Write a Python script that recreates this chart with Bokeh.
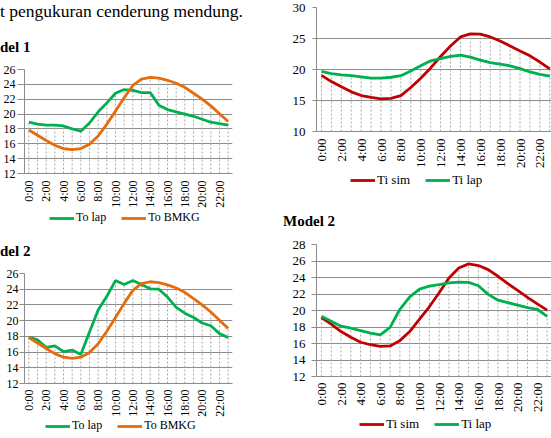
import numpy as np
from bokeh.plotting import figure
from bokeh.layouts import row, column
from bokeh.models import Div, Legend, LegendItem, FixedTicker, Range1d
from bokeh.embed import file_html
from bokeh.resources import INLINE

# ---------------- data ----------------
hours = list(range(24))
hour_labels = ["0:00", "1:00", "2:00", "3:00", "4:00", "5:00", "6:00", "7:00",
               "8:00", "9:00", "10:00", "11:00", "12:00", "13:00", "14:00", "15:00",
               "16:00", "17:00", "18:00", "19:00", "20:00", "21:00", "22:00", "23:00"]
tick_hours = [0, 2, 4, 6, 8, 10, 12, 14, 16, 18, 20, 22]

# Model 1 – outdoor temperature
to_lap_m1 = [18.9, 18.65, 18.5, 18.5, 18.4, 18.0, 17.7, 18.8, 20.3, 21.5, 22.8, 23.3,
             23.2, 22.9, 22.9, 21.2, 20.6, 20.3, 20.0, 19.7, 19.3, 18.9, 18.7, 18.5]
to_bmkg = [17.85, 17.15, 16.45, 15.8, 15.35, 15.2, 15.35, 15.95, 17.05, 18.65, 20.4, 22.2,
           23.85, 24.7, 24.95, 24.85, 24.55, 24.15, 23.6, 22.8, 22.0, 21.1, 20.05, 19.0]
# Model 2 – outdoor temperature
to_lap_m2 = [17.9, 17.55, 16.6, 16.8, 16.05, 16.25, 15.7, 18.55, 21.35, 23.1, 25.1, 24.6,
             25.1, 24.6, 24.05, 24.0, 23.0, 21.7, 20.95, 20.4, 19.7, 19.35, 18.35, 17.85]
# Model 1 – indoor temperature
ti_sim_m1 = [19.05, 18.05, 17.2, 16.4, 15.8, 15.5, 15.25, 15.35, 15.8, 17.1, 18.6, 20.25,
             22.1, 23.8, 25.25, 25.75, 25.7, 25.25, 24.6, 23.8, 23.0, 22.2, 21.2, 20.1]
ti_lap_m1 = [19.7, 19.35, 19.15, 19.0, 18.8, 18.6, 18.6, 18.75, 19.0, 19.75, 20.6, 21.4,
             21.75, 22.1, 22.3, 22.0, 21.5, 21.1, 20.85, 20.6, 20.15, 19.6, 19.2, 18.95]
# Model 2 – indoor temperature
ti_sim_m2 = [19.15, 18.35, 17.45, 16.75, 16.15, 15.85, 15.65, 15.7, 16.35, 17.45, 18.95, 20.45,
             22.15, 23.95, 25.15, 25.65, 25.45, 24.95, 24.15, 23.25, 22.45, 21.6, 20.8, 20.05]
ti_lap_m2 = [19.3, 18.7, 18.1, 17.85, 17.55, 17.25, 17.05, 17.95, 20.15, 21.65, 22.6, 22.95,
             23.15, 23.35, 23.45, 23.4, 23.0, 21.95, 21.25, 20.95, 20.65, 20.35, 20.15, 19.3]

GREEN = "#00B050"
ORANGE = "#E46C0A"
RED = "#C00000"
GRID = "#8C8C8C"
FONT = "Liberation Serif"
LW = 2.8


def make_chart(s1, s2, colors, ymin, ymax, ystep, width, height,
               mb_left, mb_right, mb_top, mb_bottom, xend, fs, tick_out, y_standoff,
               x_standoff):
    p = figure(width=width, height=height, output_backend="svg", toolbar_location=None,
               x_range=Range1d(-0.5, xend), y_range=Range1d(ymin, ymax),
               min_border_left=mb_left, min_border_right=mb_right,
               min_border_top=mb_top, min_border_bottom=mb_bottom)
    p.outline_line_color = None
    p.background_fill_color = "white"
    p.border_fill_color = "white"

    # drop lines from the higher series down to the axis
    top = np.maximum(np.array(s1), np.array(s2))
    p.segment(x0=hours, y0=[ymin] * len(hours), x1=hours, y1=top,
              line_color="#A6A6A6", line_width=1, line_dash="2 2")

    p.line(hours, s1, line_color=colors[0], line_width=LW)
    p.line(hours, s2, line_color=colors[1], line_width=LW)

    yticks = list(range(ymin, ymax + 1, ystep))
    p.xgrid.visible = False
    p.ygrid.ticker = FixedTicker(ticks=yticks)
    p.ygrid.grid_line_color = GRID
    p.ygrid.grid_line_width = 1

    ya = p.yaxis[0]
    ya.ticker = FixedTicker(ticks=yticks)
    ya.axis_line_color = GRID
    ya.major_tick_line_color = GRID
    ya.major_tick_out = tick_out
    ya.major_tick_in = 0
    ya.minor_tick_line_color = None
    ya.major_label_standoff = y_standoff
    ya.major_label_text_font = FONT
    ya.major_label_text_font_size = f"{fs}px"
    ya.major_label_text_color = "#000000"

    xa = p.xaxis[0]
    xa.ticker = FixedTicker(ticks=tick_hours)
    xa.major_label_overrides = {h: hour_labels[h] for h in tick_hours}
    xa.major_label_orientation = np.pi / 2
    xa.axis_line_color = GRID
    xa.major_tick_line_color = None
    xa.major_tick_out = 0
    xa.major_tick_in = 0
    xa.minor_tick_line_color = None
    xa.major_label_standoff = x_standoff
    xa.major_label_text_font = FONT
    xa.major_label_text_font_size = f"{fs}px"
    xa.major_label_text_color = "#000000"
    return p


def make_legend(s1, s2, names, colors, width, height, leg_x, leg_top, fs):
    """Legend strip below a chart; the series are attached only as legend sources
    (the strip's y-range lies far below the data so they are not drawn).
    leg_x is measured from the (column-aligned) frame left edge."""
    lh = 14
    q = figure(width=width, height=height, output_backend="svg", toolbar_location=None,
               x_range=Range1d(0, 1), y_range=Range1d(-1, 0),
               min_border=0, x_axis_type=None, y_axis_type=None)
    q.outline_line_color = None
    q.xgrid.visible = False
    q.ygrid.visible = False
    r1 = q.line(hours, s1, line_color=colors[0], line_width=LW)
    r2 = q.line(hours, s2, line_color=colors[1], line_width=LW)
    leg = Legend(items=[LegendItem(label=names[0], renderers=[r1]),
                        LegendItem(label=names[1], renderers=[r2])],
                 orientation="horizontal", location=(leg_x, height - leg_top - lh),
                 glyph_width=25, glyph_height=lh, label_height=lh, label_width=10,
                 label_standoff=2, spacing=15, padding=0, margin=0,
                 border_line_alpha=0, background_fill_alpha=0,
                 label_text_font=FONT, label_text_font_size=f"{fs}px",
                 label_text_color="#000000")
    q.add_layout(leg, "center")
    return q


# left column: outdoor temperature charts
fig1 = make_chart(to_lap_m1, to_bmkg, [GREEN, ORANGE],
                  12, 26, 2, 280, 150, 22, 48, 9, 35, 23.5, 12, 7, 2, 7)
leg1 = make_legend(to_lap_m1, to_bmkg, ["To lap", "To BMKG"], [GREEN, ORANGE], 280, 22, 25, 1, 12)
fig3 = make_chart(to_lap_m2, to_bmkg, [GREEN, ORANGE],
                  12, 26, 2, 280, 157, 18, 46, 11, 34, 23.5, 12, 5, 1, 6)
leg3 = make_legend(to_lap_m2, to_bmkg, ["To lap", "To BMKG"], [GREEN, ORANGE], 280, 19, 21, 0, 12)

# right column: indoor temperature charts
fig2 = make_chart(ti_sim_m1, ti_lap_m1, [RED, GREEN],
                  10, 30, 5, 271, 171, 36, 0, 7, 38, 23.17, 13, 4, 7, 7)
leg2 = make_legend(ti_sim_m1, ti_lap_m1, ["Ti sim", "Ti lap"], [RED, GREEN], 271, 29, 34, 3, 13)
fig4 = make_chart(ti_sim_m2, ti_lap_m2, [RED, GREEN],
                  12, 28, 2, 271, 180, 36, 0, 9, 37, 23.45, 13, 5, 6, 6)
leg4 = make_legend(ti_sim_m2, ti_lap_m2, ["Ti sim", "Ti lap"], [RED, GREEN], 271, 23, 43, 3, 13)

SPAN = "position:absolute;white-space:nowrap;line-height:1;color:#000;font-family:'Liberation Serif';"
top_div = Div(text=(
    '<div style="position:relative;width:280px;height:60px;overflow:hidden;">'
    f'<span style="{SPAN}left:0px;top:3px;font-size:17.5px;">t pengukuran cenderung mendung.</span>'
    f'<span style="{SPAN}left:0px;top:40px;font-size:15px;font-weight:bold;">del 1</span>'
    '</div>'), width=280, height=60, margin=0)
mid_left_div = Div(text=(
    '<div style="position:relative;width:280px;height:30px;overflow:hidden;">'
    f'<span style="{SPAN}left:0px;top:12px;font-size:15px;font-weight:bold;">del 2</span>'
    '</div>'), width=280, height=30, margin=0)
mid_right_div = Div(text=(
    '<div style="position:relative;width:271px;height:35px;overflow:hidden;">'
    f'<span style="{SPAN}left:3px;top:14px;font-size:15px;font-weight:bold;">Model 2</span>'
    '</div>'), width=271, height=35, margin=0)

left = column(top_div, fig1, leg1, mid_left_div, fig3, leg3, spacing=0)
right = column(fig2, leg2, mid_right_div, fig4, leg4, spacing=0)
layout = row(left, right, spacing=0)

with open("out.html", "w") as f:
    f.write(file_html(layout, INLINE))
